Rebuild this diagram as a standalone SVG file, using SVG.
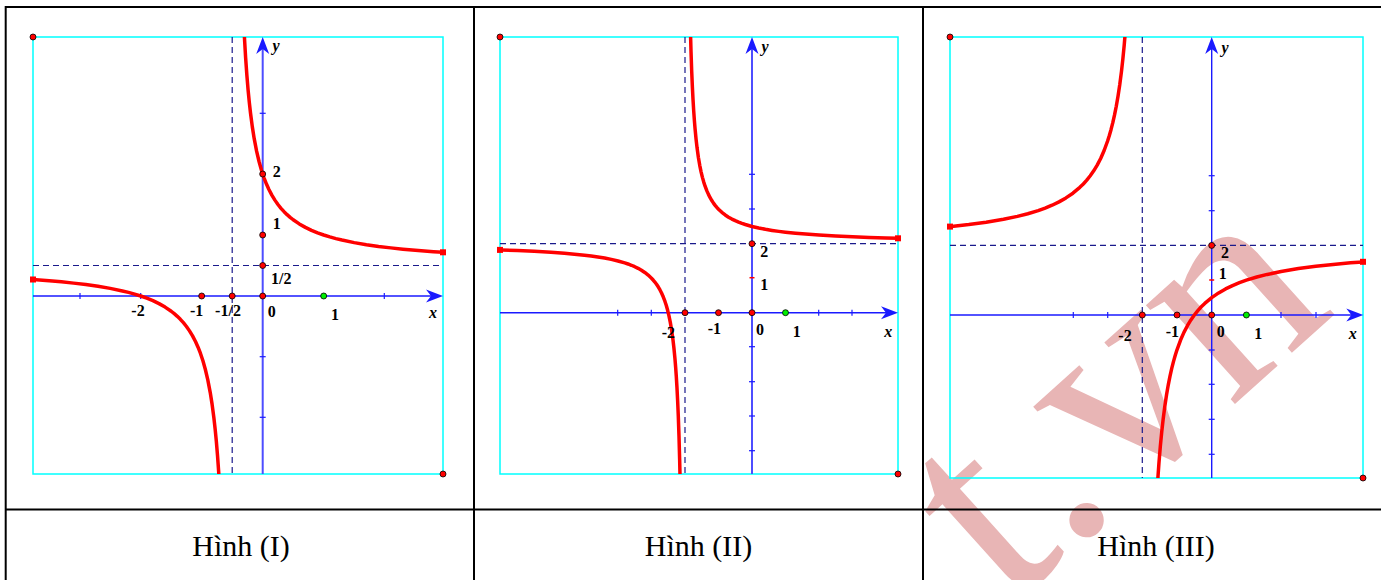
<svg xmlns="http://www.w3.org/2000/svg" xmlns:xlink="http://www.w3.org/1999/xlink" width="1381" height="580" viewBox="0 0 1381 580">
<style>
.tbl{stroke:#000;stroke-width:2;fill:none}
.frame{fill:none;stroke:#00ffff;stroke-width:1.5}
.ax{stroke:#1a1aff;stroke-width:1.4;fill:none}
.axy{stroke:#4d4dff;stroke-width:2;fill:none}
.tk{stroke:#1a1aff;stroke-width:1.2}
.tkr{stroke:#ff0000;stroke-width:1.5}
.asy{stroke:#1a1a8c;stroke-width:1.2;stroke-dasharray:6,4;fill:none}
.crv{fill:none;stroke:#ff0000;stroke-width:3.5;vector-effect:non-scaling-stroke;stroke-linejoin:round}
.arr{fill:#1a1aff}
.dot{fill:#ff0000;stroke:#000;stroke-width:0.8}
.gdot{fill:#00ee00;stroke:#000;stroke-width:0.8}
.end{fill:#ff0000}
.lb{font-family:"Liberation Serif","Times New Roman",serif;font-weight:bold;font-size:16px;fill:#000;text-anchor:middle}
.it{font-style:italic}
.cap{font-family:"Liberation Serif","Times New Roman",serif;font-size:30px;fill:#000;text-anchor:middle}
.wm{font-family:"Liberation Serif","Times New Roman",serif;font-size:290px;fill:#e8b5b5}
</style>
<defs>
<path id="hb" class="crv" d="M0.08,12.5 L0.09,11.111 L0.1,10 L0.11,9.091 L0.12,8.333 L0.13,7.692 L0.14,7.143 L0.15,6.667 L0.16,6.25 L0.18,5.556 L0.2,5 L0.22,4.545 L0.24,4.167 L0.26,3.846 L0.28,3.571 L0.3,3.333 L0.33,3.030 L0.36,2.778 L0.4,2.5 L0.44,2.273 L0.48,2.083 L0.52,1.923 L0.56,1.786 L0.6,1.667 L0.65,1.538 L0.7,1.429 L0.75,1.333 L0.8,1.25 L0.85,1.176 L0.9,1.111 L0.95,1.053 L1,1 L1.1,0.909 L1.2,0.833 L1.3,0.769 L1.4,0.714 L1.5,0.667 L1.6,0.625 L1.7,0.588 L1.8,0.556 L2,0.5 L2.2,0.455 L2.4,0.417 L2.6,0.385 L2.8,0.357 L3,0.333 L3.3,0.303 L3.6,0.278 L4,0.25 L4.5,0.222 L5,0.2 L5.5,0.182 L6,0.167 L7,0.143 L8,0.125 L10,0.1 L12,0.0833"/>
<path id="arr" class="arr" d="M0,0 L-17,-6.5 L-12,0 L-17,6.5 Z"/>
<clipPath id="c1"><rect x="33" y="37" width="410" height="437"/></clipPath>
<clipPath id="c2"><rect x="500" y="37" width="398" height="437"/></clipPath>
<clipPath id="c3"><rect x="950" y="37" width="413" height="441"/></clipPath>
</defs>

<rect width="1381" height="580" fill="#fff"/>

<!-- watermark -->
<text class="wm" transform="translate(1008.5,608) rotate(-42)">t.vn</text>

<!-- table -->
<g id="table">
<line class="tbl" x1="5" y1="7" x2="1381" y2="7"/>
<line class="tbl" x1="5.7" y1="6" x2="5.7" y2="580"/>
<line class="tbl" x1="474" y1="6" x2="474" y2="580"/>
<line class="tbl" x1="923" y1="6" x2="923" y2="580"/>
<line class="tbl" x1="5" y1="509.5" x2="1381" y2="509.5"/>
</g>

<!-- Panel I -->
<g id="panel1">
<rect class="frame" x="33" y="37" width="410" height="437"/>
<line class="asy" x1="232.2" y1="37" x2="232.2" y2="474"/>
<line class="asy" x1="33" y1="265.5" x2="443" y2="265.5"/>
<line class="ax" x1="33" y1="296" x2="435" y2="296"/>
<line class="axy" x1="262.7" y1="474" x2="262.7" y2="45"/>
<use href="#arr" transform="translate(443,296)"/>
<use href="#arr" transform="translate(262.7,37) rotate(-90)"/>
<g class="tk">
<line x1="80" y1="293" x2="80" y2="299"/><line x1="140.7" y1="293" x2="140.7" y2="299"/><line x1="384.3" y1="293" x2="384.3" y2="299"/>
<line x1="259.7" y1="113.3" x2="265.7" y2="113.3"/><line x1="259.7" y1="356.7" x2="265.7" y2="356.7"/><line x1="259.7" y1="417.3" x2="265.7" y2="417.3"/>
</g>
<g clip-path="url(#c1)">
<use href="#hb" transform="matrix(61,0,0,-45.75,232.2,265.5)"/>
<use href="#hb" transform="matrix(-61,0,0,45.75,232.2,265.5)"/>
</g>
<rect class="end" x="30" y="276.5" width="6" height="6"/>
<rect class="end" x="440" y="249.3" width="6" height="6"/>
<circle class="dot" cx="201.7" cy="296" r="3"/><circle class="dot" cx="232.2" cy="296" r="3"/><circle class="dot" cx="262.7" cy="296" r="3"/>
<circle class="dot" cx="262.7" cy="265.5" r="3"/><circle class="dot" cx="262.7" cy="235" r="3"/><circle class="dot" cx="262.7" cy="174" r="3"/>
<circle class="gdot" cx="323.7" cy="296" r="3"/>
<circle class="dot" cx="33" cy="37" r="3"/><circle class="dot" cx="443" cy="474" r="3"/>
<text class="lb" x="138" y="316">-2</text>
<text class="lb" x="196.7" y="316">-1</text>
<text class="lb" x="228" y="316">-1/2</text>
<text class="lb" x="271.7" y="316.5">0</text>
<text class="lb" x="335" y="320">1</text>
<text class="lb it" x="433" y="318">x</text>
<text class="lb it" x="276" y="51">y</text>
<text class="lb" x="276.7" y="176.5">2</text>
<text class="lb" x="276.7" y="229">1</text>
<text class="lb" x="281.3" y="284">1/2</text>
</g>

<!-- Panel II -->
<g id="panel2">
<rect class="frame" x="500" y="37" width="398" height="437"/>
<line class="asy" x1="685" y1="37" x2="685" y2="474"/>
<line class="asy" x1="500" y1="243.7" x2="898" y2="243.7"/>
<line class="ax" x1="500" y1="312.7" x2="890" y2="312.7"/>
<line class="axy" x1="752" y1="474" x2="752" y2="45"/>
<use href="#arr" transform="translate(898,312.7)"/>
<use href="#arr" transform="translate(752,37) rotate(-90)"/>
<g class="tk">
<line x1="617.7" y1="309.7" x2="617.7" y2="315.7"/><line x1="651.3" y1="309.7" x2="651.3" y2="315.7"/><line x1="818.7" y1="309.7" x2="818.7" y2="315.7"/><line x1="852" y1="309.7" x2="852" y2="315.7"/>
<line x1="749" y1="174.3" x2="755" y2="174.3"/><line x1="749" y1="209" x2="755" y2="209"/><line x1="749" y1="346.7" x2="755" y2="346.7"/><line x1="749" y1="381.7" x2="755" y2="381.7"/><line x1="749" y1="416" x2="755" y2="416"/><line x1="749" y1="450.7" x2="755" y2="450.7"/>
</g>
<line class="tkr" x1="749.5" y1="277.7" x2="754.5" y2="277.7"/>
<g clip-path="url(#c2)">
<use href="#hb" transform="matrix(33.5,0,0,-34.5,685,243.7)"/>
<use href="#hb" transform="matrix(-33.5,0,0,34.5,685,243.7)"/>
</g>
<rect class="end" x="497" y="246.9" width="6" height="6"/>
<rect class="end" x="895" y="235.3" width="6" height="6"/>
<circle class="dot" cx="685" cy="312.7" r="3"/><circle class="dot" cx="718.5" cy="312.7" r="3"/><circle class="dot" cx="752" cy="312.7" r="3"/>
<circle class="dot" cx="752" cy="243.7" r="3"/>
<circle class="gdot" cx="785.5" cy="312.7" r="3"/>
<circle class="dot" cx="500" cy="37" r="3"/><circle class="dot" cx="898" cy="474" r="3"/>
<text class="lb it" x="765" y="52">y</text>
<text class="lb" x="764.3" y="257">2</text>
<text class="lb" x="764.3" y="290">1</text>
<text class="lb" x="668.3" y="338">-2</text>
<text class="lb" x="714.3" y="334">-1</text>
<text class="lb" x="760" y="335">0</text>
<text class="lb" x="796.7" y="337">1</text>
<text class="lb it" x="888.3" y="336.5">x</text>
</g>

<!-- Panel III -->
<g id="panel3">
<rect class="frame" x="950" y="37" width="413" height="441"/>
<line class="asy" x1="1142.3" y1="37" x2="1142.3" y2="478"/>
<line class="asy" x1="950" y1="245.4" x2="1363" y2="245.4"/>
<line class="ax" x1="950" y1="315" x2="1355" y2="315"/>
<line class="ax" x1="1211.7" y1="478" x2="1211.7" y2="45"/>
<use href="#arr" transform="translate(1363.3,315)"/>
<use href="#arr" transform="translate(1211.7,37) rotate(-90)"/>
<g class="tk">
<line x1="1073.3" y1="312" x2="1073.3" y2="318"/><line x1="1107.7" y1="312" x2="1107.7" y2="318"/><line x1="1281" y1="312" x2="1281" y2="318"/><line x1="1316" y1="312" x2="1316" y2="318"/>
<line x1="1208.7" y1="175.7" x2="1214.7" y2="175.7"/><line x1="1208.7" y1="210.7" x2="1214.7" y2="210.7"/><line x1="1208.7" y1="350" x2="1214.7" y2="350"/><line x1="1208.7" y1="384.3" x2="1214.7" y2="384.3"/><line x1="1208.7" y1="419.3" x2="1214.7" y2="419.3"/><line x1="1208.7" y1="454.3" x2="1214.7" y2="454.3"/>
</g>
<line class="tkr" x1="1209.2" y1="280" x2="1214.2" y2="280"/>
<g clip-path="url(#c3)">
<use href="#hb" transform="matrix(34.7,0,0,104.4,1142.3,245.4)"/>
<use href="#hb" transform="matrix(-34.7,0,0,-104.4,1142.3,245.4)"/>
</g>
<rect class="end" x="947" y="223.6" width="6" height="6"/>
<rect class="end" x="1360" y="258.8" width="6" height="6"/>
<circle class="dot" cx="1142.3" cy="315" r="3"/><circle class="dot" cx="1177" cy="315" r="3"/><circle class="dot" cx="1211.7" cy="315" r="3"/>
<circle class="dot" cx="1211.7" cy="245.4" r="3"/>
<circle class="gdot" cx="1246.4" cy="315" r="3"/>
<circle class="dot" cx="950" cy="37" r="3"/><circle class="dot" cx="1363" cy="478" r="3"/>
<text class="lb it" x="1225" y="53">y</text>
<text class="lb" x="1225" y="258">2</text>
<text class="lb" x="1222.7" y="279">1</text>
<text class="lb" x="1125" y="340.5">-2</text>
<text class="lb" x="1172.3" y="337">-1</text>
<text class="lb" x="1220.7" y="337">0</text>
<text class="lb" x="1258.3" y="339">1</text>
<text class="lb it" x="1352.7" y="338.5">x</text>
</g>

<!-- captions -->
<g id="captions">
<text class="cap" x="241" y="556">Hình (I)</text>
<text class="cap" x="698.5" y="556">Hình (II)</text>
<text class="cap" x="1156" y="556">Hình (III)</text>
</g>
</svg>
